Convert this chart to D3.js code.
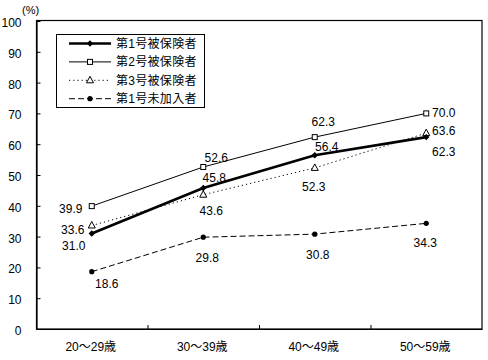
<!DOCTYPE html>
<html><head><meta charset="utf-8">
<script src="https://cdn.jsdelivr.net/npm/d3@7/dist/d3.min.js"></script>
<style>
body{margin:0;background:#fff;}
svg text{font-family:"Liberation Sans Narrow","Liberation Sans","Noto Sans CJK JP",sans-serif;fill:#000;}
.jp{font-family:"Liberation Sans Narrow","Liberation Sans","Noto Sans CJK JP",sans-serif;}
</style></head>
<body><svg id="c" width="488" height="360"></svg>
<script>
const categories = ["20～29歳","30～39歳","40～49歳","50～59歳"];
const seriesNames = ["第1号被保険者","第2号被保険者","第3号被保険者","第1号未加入者"];
const s1 = [31.0, 45.8, 56.4, 62.3];
const s2 = [39.9, 52.6, 62.3, 70.0];
const s3 = [33.6, 43.6, 52.3, 63.6];
const s4 = [18.6, 29.8, 30.8, 34.3];
const yTicks = [0,10,20,30,40,50,60,70,80,90,100];
const yUnit = "(%)";

// label nudges (layout only): [dx, dy] of label centre from point
const nudge1 = [[-18,11.5],[11,-10],[12,-8.6],[17.5,14]];
const nudge2 = [[-21,2],[13,-10],[8.5,-16],[17.5,-1]];
const nudge3 = [[-19,3.5],[8,16],[-1,19],[17.5,-3]];
const nudge4 = [[15,12],[4,20],[3,20],[-1,19]];

const svg = d3.select("#c");
const L=36, R=482, T=20.5, B=329;
const x = d3.scaleBand().domain(categories).range([L,R]);
const y = d3.scaleLinear().domain([0,100]).range([B,21]);
const cx = c => x(c)+x.bandwidth()/2;

// frame
svg.append("rect").attr("x",L+0.5).attr("y",T).attr("width",R-L-0.5).attr("height",B-T)
  .attr("fill","none").attr("stroke","#000").attr("stroke-width",1.2);

// y axis
const ya = svg.append("g").attr("transform",`translate(${L+0.5},0)`)
  .call(d3.axisLeft(y).tickValues(yTicks).tickSizeInner(-4).tickSizeOuter(0).tickPadding(15).tickFormat(d3.format("d")));
ya.select(".domain").attr("stroke","#000").attr("stroke-width",1.2);
ya.selectAll("text").attr("font-size",12).attr("dy","0.45em");
ya.selectAll("line").attr("stroke","#000");

// x axis labels
const xa = svg.append("g").attr("transform",`translate(0,${B})`)
  .call(d3.axisBottom(x).tickSize(0).tickPadding(13));
xa.select(".domain").attr("stroke","#000").attr("stroke-width",1.2);
xa.selectAll("text").attr("font-size",12).attr("dy","0.75em").attr("dx",-1);
// x boundary ticks
const xb = d3.scaleLinear().domain([0,categories.length]).range([L,R]);
const xt = svg.append("g").attr("transform",`translate(0,${B})`)
  .call(d3.axisBottom(xb).tickValues(d3.range(1,categories.length)).tickSize(-4).tickFormat(""));
xt.select(".domain").remove();
xt.selectAll("line").attr("stroke","#000");

svg.append("text").attr("x",22).attr("y",14).attr("font-size",11).text(yUnit);

const series = [
  {name:seriesNames[3], v:s4, nudge:nudge4, w:1, dash:"6,3", marker:"circle"},
  {name:seriesNames[2], v:s3, nudge:nudge3, w:1, dash:"1.2,3", marker:"triangle"},
  {name:seriesNames[1], v:s2, nudge:nudge2, w:1, dash:null, marker:"square"},
  {name:seriesNames[0], v:s1, nudge:nudge1, w:2.6, dash:null, marker:"diamond"}
];

function drawMarker(g, type, px, py){
  if(type==="circle") g.append("circle").attr("cx",px).attr("cy",py).attr("r",2.6).attr("fill","#000");
  else if(type==="square") g.append("rect").attr("x",px-2.5).attr("y",py-2.5).attr("width",5).attr("height",5)
      .attr("fill","#fff").attr("stroke","#000").attr("stroke-width",1);
  else if(type==="triangle") g.append("path").attr("d",`M${px},${py-4}L${px+3.5},${py+2.5}L${px-3.5},${py+2.5}Z`)
      .attr("fill","#fff").attr("stroke","#000").attr("stroke-width",1);
  else if(type==="diamond") g.append("path").attr("d",`M${px},${py-3.2}L${px+3.2},${py}L${px},${py+3.2}L${px-3.2},${py}Z`)
      .attr("fill","#000");
}

const line = d3.line().x((d,i)=>cx(categories[i])).y(d=>y(d));
const lg = svg.append("g"), mg = svg.append("g"), tg = svg.append("g");
series.forEach(s=>{
  lg.append("path").attr("d",line(s.v)).attr("fill","none").attr("stroke","#000")
    .attr("stroke-width",s.w).attr("stroke-dasharray",s.dash);
});
series.forEach(s=>{
  s.v.forEach((d,i)=>drawMarker(mg, s.marker, cx(categories[i]), y(d)));
  s.v.forEach((d,i)=>{
    tg.append("text").attr("x",cx(categories[i])+s.nudge[i][0]).attr("y",y(d)+s.nudge[i][1])
      .attr("text-anchor","middle").attr("dy","0.38em").attr("font-size",12).text(d.toFixed(1));
  });
});

// legend
const leg = svg.append("g");
leg.append("rect").attr("x",56.5).attr("y",34.5).attr("width",148).attr("height",73)
  .attr("fill","#fff").attr("stroke","#000").attr("stroke-width",1);
const legOrder = [series[3],series[2],series[1],series[0]];
legOrder.forEach((s,i)=>{
  const ly = 43.5 + i*18.4;
  leg.append("line").attr("x1",69).attr("x2",111).attr("y1",ly).attr("y2",ly)
    .attr("stroke","#000").attr("stroke-width",s.w).attr("stroke-dasharray",s.dash);
  drawMarker(leg, s.marker, 90, ly);
  leg.append("text").attr("class","jp").attr("x",116).attr("y",ly).attr("dy","0.38em")
    .attr("font-size",12).attr("letter-spacing",0.3).text(s.name);
});
</script></body></html>
